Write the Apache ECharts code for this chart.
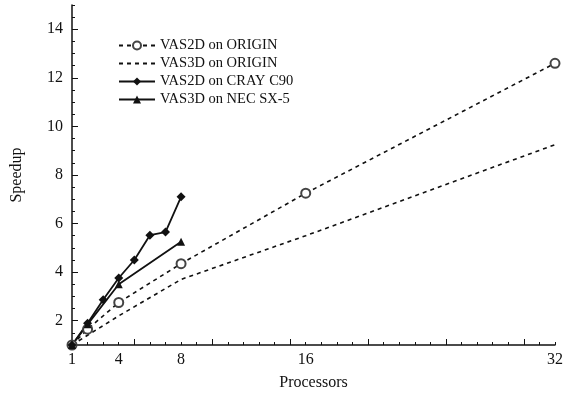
<!DOCTYPE html>
<html>
<head>
<meta charset="utf-8">
<script src="https://cdn.jsdelivr.net/npm/echarts@6/dist/echarts.min.js"></script>
<style>html,body{margin:0;padding:0;background:#fff}#c{width:575px;height:396px}</style>
</head>
<body>
<div id="c"></div>
<script>
const seriesNames = ['VAS2D on ORIGIN', 'VAS3D on ORIGIN', 'VAS2D on CRAY C90', 'VAS3D on NEC SX-5'];
const vas2dOriginX = [1, 2, 4, 8, 16, 32];
const vas2dOriginY = [1, 1.65, 2.75, 4.35, 7.25, 12.6];
const vas3dOriginX = [1, 2, 4, 8, 16, 32];
const vas3dOriginY = [1, 1.4, 2.2, 3.7, 5.5, 9.25];
const vas2dCrayX = [1, 2, 3, 4, 5, 6, 7, 8];
const vas2dCrayY = [1, 1.9, 2.86, 3.76, 4.5, 5.52, 5.65, 7.1];
const vas3dNecX = [1, 2, 4, 8];
const vas3dNecY = [1, 1.85, 3.5, 5.25];
const xTickLabels = [1, 4, 8, 16, 32];
const yTickLabels = [2, 4, 6, 8, 10, 12, 14];

const pairs = (xs, ys) => xs.map((x, i) => [x, ys[i]]);
const FONT = '"Liberation Serif", "DejaVu Serif", serif';
const INK = '#111';

const chart = echarts.init(document.getElementById('c'), null, {renderer: 'canvas'});
chart.setOption({
  animation: false,
  backgroundColor: '#fff',
  textStyle: {fontFamily: FONT, color: INK},
  grid: {left: 72, right: 20, top: 5, bottom: 49},
  legend: {
    orient: 'vertical', left: 113, top: 33, itemGap: 3,
    itemWidth: 36, itemHeight: 10,
    textStyle: {fontFamily: FONT, fontSize: 14.5, color: INK},
    data: [
      seriesNames[0],
      {name: seriesNames[1], itemStyle: {color: 'rgba(0,0,0,0)', borderWidth: 0}},
      seriesNames[2],
      seriesNames[3]
    ]
  },
  xAxis: [{
    type: 'value', min: 1, max: 32,
    name: 'Processors', nameLocation: 'middle', nameGap: 30,
    nameTextStyle: {fontFamily: FONT, fontSize: 16, color: INK},
    axisLine: {lineStyle: {color: INK, width: 1.5}},
    axisTick: {inside: true, length: 6, lineStyle: {color: INK}, customValues: [5, 10, 15, 20, 25, 30]},
    axisLabel: {customValues: xTickLabels, fontFamily: FONT, fontSize: 16, color: INK, margin: 7},
    splitLine: {show: false}
  }, {
    type: 'value', min: 1, max: 32, interval: 1, position: 'bottom',
    axisLine: {show: false},
    axisTick: {inside: true, length: 3, lineStyle: {color: INK}},
    axisLabel: {show: false}, splitLine: {show: false}
  }],
  yAxis: [{
    type: 'value', min: 1, max: 15,
    name: 'Speedup', nameLocation: 'middle', nameGap: 47,
    nameTextStyle: {fontFamily: FONT, fontSize: 16, color: INK},
    axisLine: {show: true, lineStyle: {color: INK, width: 1.5}},
    axisTick: {show: true, inside: true, length: 6, lineStyle: {color: INK}, customValues: yTickLabels},
    axisLabel: {customValues: yTickLabels, fontFamily: FONT, fontSize: 16, color: INK, margin: 9},
    splitLine: {show: false}
  }, {
    type: 'value', min: 1, max: 15, interval: 0.5, position: 'left',
    axisLine: {show: false},
    axisTick: {show: true, inside: true, length: 3, lineStyle: {color: INK}},
    axisLabel: {show: false}, splitLine: {show: false}
  }],
  series: [{
    name: seriesNames[0], type: 'line', data: pairs(vas2dOriginX, vas2dOriginY),
    symbol: 'emptyCircle', symbolSize: 9,
    lineStyle: {color: INK, width: 1.6, type: [4, 4]},
    itemStyle: {color: '#444', borderWidth: 0.9}
  }, {
    name: seriesNames[1], type: 'line', data: pairs(vas3dOriginX, vas3dOriginY),
    symbol: 'none',
    lineStyle: {color: INK, width: 1.6, type: [4, 4]},
    itemStyle: {color: INK}
  }, {
    name: seriesNames[2], type: 'line', data: pairs(vas2dCrayX, vas2dCrayY),
    symbol: 'diamond', symbolSize: 9,
    lineStyle: {color: INK, width: 1.8},
    itemStyle: {color: INK}
  }, {
    name: seriesNames[3], type: 'line', data: pairs(vas3dNecX, vas3dNecY),
    symbol: 'triangle', symbolSize: 8,
    lineStyle: {color: INK, width: 1.8},
    itemStyle: {color: INK}
  }]
});
</script>
</body>
</html>
